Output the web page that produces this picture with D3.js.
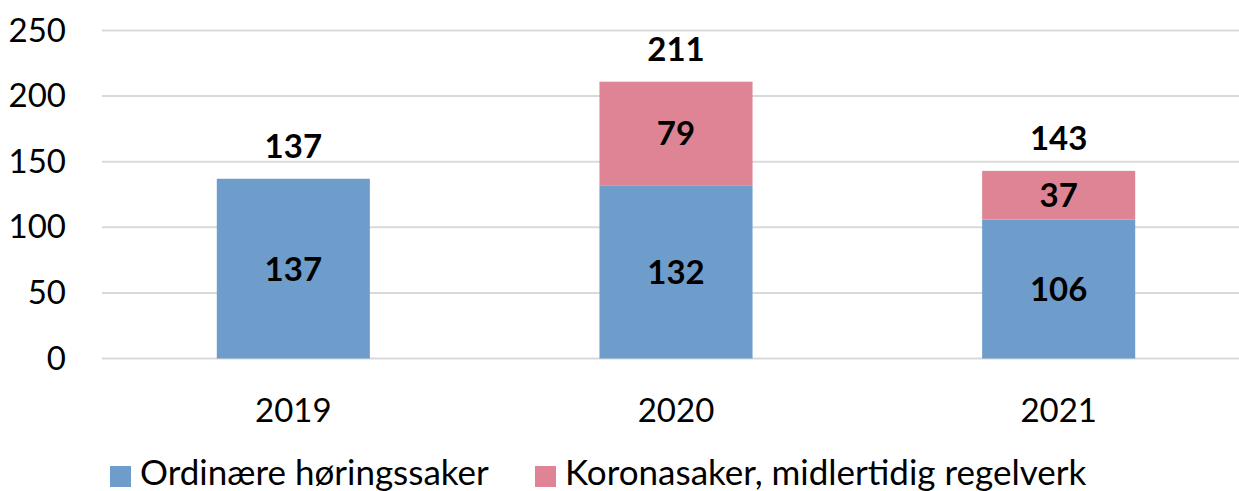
<!DOCTYPE html>
<html><head><meta charset="utf-8">
<script src="https://cdn.jsdelivr.net/npm/d3@7"></script>
<style>body{margin:0;background:#fff}svg{display:block}text{font-family:Lato,"Open Sans",sans-serif}</style>
</head><body><svg id="c" width="1239" height="491"></svg>
<script>
const categories = ["2019","2020","2021"];
const ordinary = [137,132,106];
const corona = [0,79,37];
const totals = [137,211,143];
const seriesNames = ["Ordinære høringssaker","Koronasaker, midlertidig regelverk"];
const yTicks = [0,50,100,150,200,250];
const colors = ["#6F9DCB","#DE8495"];

const svg = d3.select("#c");
const x = d3.scaleBand().domain(categories).range([102,1250]).paddingInner(0.6).paddingOuter(0.3);
const y = d3.scaleLinear().domain([0,250]).range([358.5,30.5]);

// grid
svg.append("g").selectAll("line").data(yTicks).join("line")
  .attr("x1",102).attr("x2",1239).attr("y1",d=>y(d)).attr("y2",d=>y(d))
  .attr("stroke","#d9d9d9").attr("stroke-width",2);

// y axis
const ya = svg.append("g").attr("transform","translate(66,0)")
  .call(d3.axisLeft(y).tickValues(yTicks).tickSize(0).tickPadding(0));
ya.select(".domain").remove();
ya.selectAll("text").attr("font-size",33).attr("fill","#000").attr("font-family","Lato");

const rows = categories.map((c,i)=>({c,o:ordinary[i],k:corona[i],t:totals[i]}));
const stack = d3.stack().keys(["o","k"])(rows);
const g = svg.append("g");
stack.forEach((s,si)=>{
  g.selectAll(null).data(s).join("rect")
    .attr("x",d=>x(d.data.c)).attr("width",x.bandwidth())
    .attr("y",d=>y(d[1])).attr("height",d=>y(d[0])-y(d[1]))
    .attr("fill",colors[si]);
  g.selectAll(null).data(s.filter(d=>d[1]-d[0]>0)).join("text")
    .attr("x",d=>x(d.data.c)+x.bandwidth()/2).attr("y",d=>(y(d[0])+y(d[1]))/2)
    .attr("dy","0.36em").attr("text-anchor","middle")
    .attr("font-size",33).attr("font-weight","bold").attr("fill","#000")
    .text(d=>d[1]-d[0]);
});
g.selectAll(null).data(rows).join("text")
  .attr("x",d=>x(d.c)+x.bandwidth()/2).attr("y",d=>y(d.t)-33)
  .attr("dy","0.36em").attr("text-anchor","middle")
  .attr("font-size",33).attr("font-weight","bold").attr("fill","#000")
  .text(d=>d.t);

// x axis
const xa = svg.append("g").attr("transform","translate(0,359)")
  .call(d3.axisBottom(x).tickSize(0).tickPadding(0));
xa.select(".domain").remove();
xa.selectAll("text").attr("font-size",33).attr("fill","#000").attr("dy",0).attr("y",63).attr("font-family","Lato");

// legend
const lg = svg.append("g");
const lx = [110,535];
seriesNames.forEach((n,i)=>{
  lg.append("rect").attr("x",lx[i]).attr("y",466).attr("width",21).attr("height",21).attr("fill",colors[i]);
  lg.append("text").attr("x",lx[i]+30).attr("y",485).attr("font-size",35).attr("fill","#000").text(n);
});
</script></body></html>
